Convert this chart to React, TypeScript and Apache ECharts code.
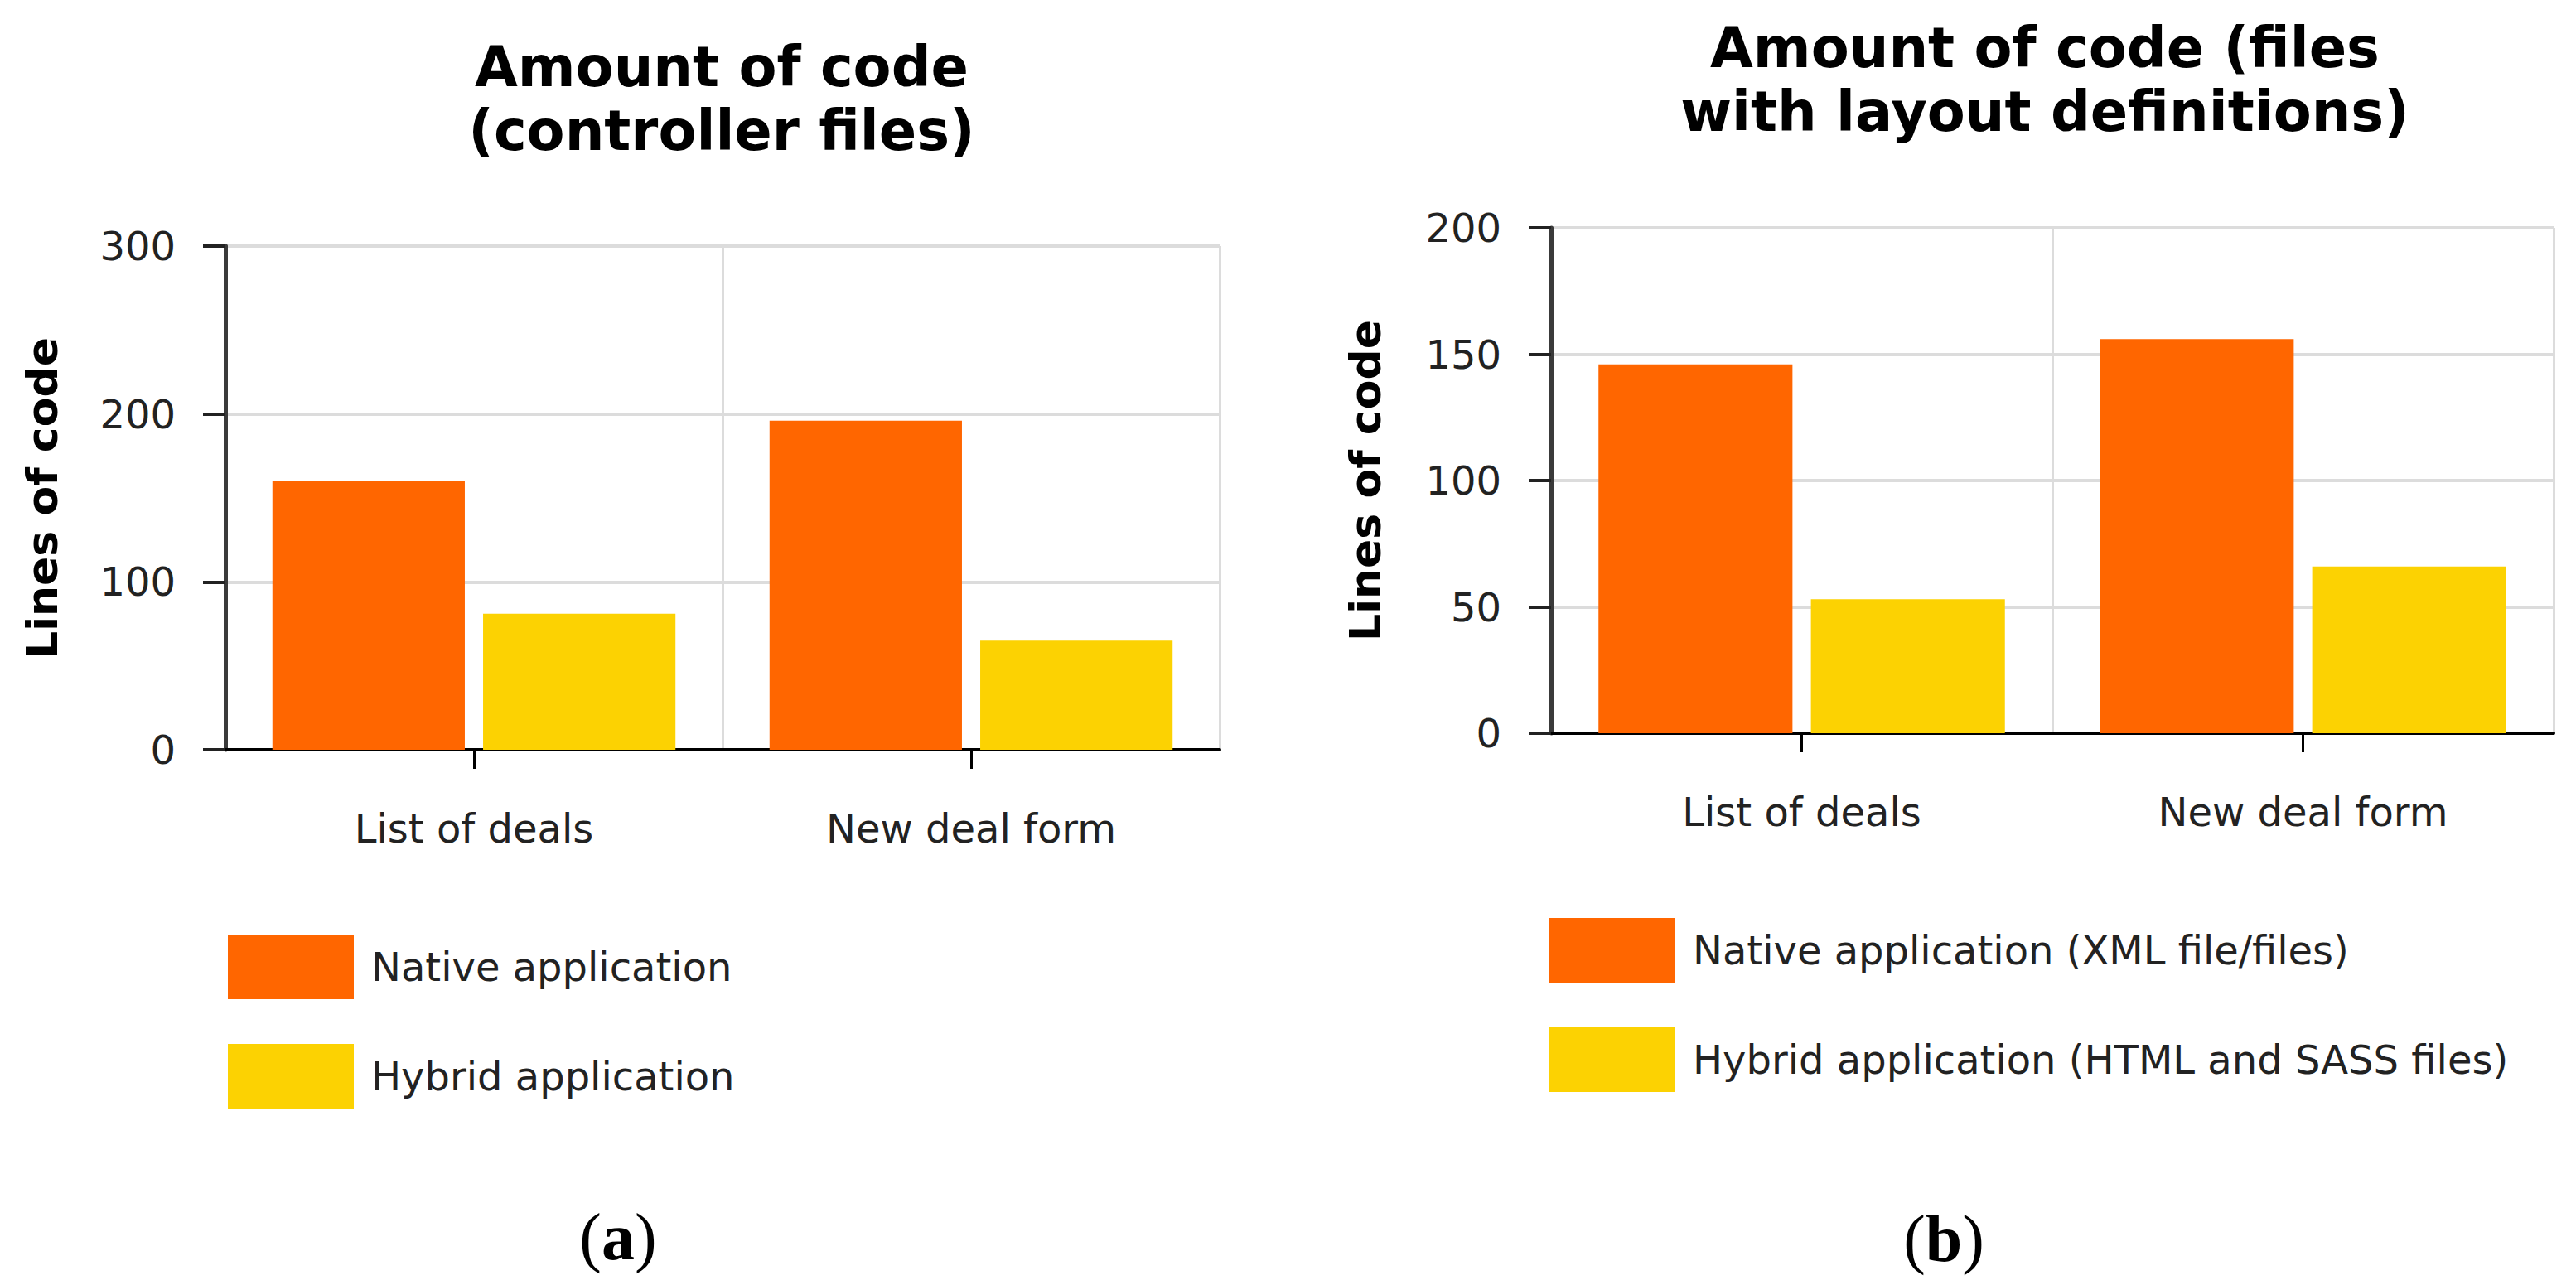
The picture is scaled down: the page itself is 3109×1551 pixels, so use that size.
import React, { useEffect, useRef } from "react";
import * as echarts from "echarts";

const categories = ["List of deals", "New deal form"];

const seriesNamesA = ["Native application", "Hybrid application"];
const nativeA = [160, 196];
const hybridA = [81, 65];
const yMaxA = 300;
const yIntervalA = 100;

const seriesNamesB = [
  "Native application (XML file/files)",
  "Hybrid application (HTML and SASS files)",
];
const nativeB = [146, 156];
const hybridB = [53, 66];
const yMaxB = 200;
const yIntervalB = 50;

const titleA = "Amount of code\n(controller files)";
const titleB = "Amount of code (files\nwith layout definitions)";
const yName = "Lines of code";

const ORANGE = "#FF6600";
const YELLOW = "#FCD202";
const SANS = "DejaVu Sans, Verdana, sans-serif";
const SERIF = "Liberation Serif, serif";

export default function App() {
  const ref = useRef<HTMLDivElement>(null);

  useEffect(() => {
    if (!ref.current) return;
    const chart = echarts.init(ref.current, undefined, { renderer: "svg" });

    const makeX = (gridIndex: number) => ({
      type: "category",
      gridIndex,
      data: categories,
      boundaryGap: true,
      axisLine: { show: true, lineStyle: { color: "#000", width: 4 } },
      axisTick: {
        show: true,
        alignWithLabel: true,
        length: 23,
        lineStyle: { color: "#000", width: 3 },
      },
      axisLabel: {
        margin: 71,
        fontSize: 48,
        fontFamily: SANS,
        color: "#222",
      },
      splitLine: { show: true, lineStyle: { color: "#dcdcdc", width: 3 } },
    });

    const makeY = (gridIndex: number, max: number, interval: number, gap: number) => ({
      type: "value",
      gridIndex,
      min: 0,
      max,
      interval,
      name: yName,
      nameLocation: "middle",
      nameRotate: 90,
      nameGap: gap,
      nameTextStyle: {
        fontSize: 52,
        fontWeight: "bold",
        fontFamily: SANS,
        color: "#000",
      },
      axisLine: { show: true, lineStyle: { color: "#3a3a3a", width: 5 } },
      axisTick: {
        show: true,
        length: 27,
        lineStyle: { color: "#222", width: 4 },
      },
      axisLabel: {
        margin: 60,
        fontSize: 48,
        fontFamily: SANS,
        color: "#222",
      },
      splitLine: { show: true, lineStyle: { color: "#dcdcdc", width: 4 } },
    });

    const bar = (name: string, data: number[], color: string, idx: number) => ({
      type: "bar",
      name,
      xAxisIndex: idx,
      yAxisIndex: idx,
      data,
      barWidth: "38.7%",
      barGap: "9.5%",
      itemStyle: { color },
    });

    const legendBase = {
      orient: "vertical",
      icon: "rect",
      itemWidth: 152,
      itemHeight: 78,
      itemGap: 54,
      textStyle: {
        fontSize: 48,
        fontFamily: SANS,
        color: "#222",
        padding: [0, 0, 0, 16],
      },
    };

    const titleText = (text: string, x: number, y: number) => ({
      type: "text",
      x,
      y,
      style: {
        text,
        fontSize: 67,
        fontWeight: "bold",
        fontFamily: SANS,
        fill: "#000",
        lineHeight: 77,
        align: "center",
        textAlign: "center",
        verticalAlign: "top",
        textVerticalAlign: "top",
      },
    });

    const subLabel = (letter: string, x: number, y: number) => ({
      type: "text",
      x,
      y,
      style: {
        text: "{p|(}{b|" + letter + "}{p|)}",
        align: "center",
        textAlign: "center",
        verticalAlign: "middle",
        textVerticalAlign: "middle",
        fill: "#000",
        rich: {
          p: { fontSize: 80, fontFamily: SERIF, color: "#000" },
          b: { fontSize: 80, fontFamily: SERIF, fontWeight: "bold", color: "#000" },
        },
      },
    });

    chart.setOption({
      animation: false,
      backgroundColor: "#fff",
      grid: [
        { left: 272, top: 297, width: 1200, height: 608, containLabel: false },
        { left: 1872, top: 275, width: 1210, height: 610, containLabel: false },
      ],
      xAxis: [makeX(0), makeX(1)],
      yAxis: [
        makeY(0, yMaxA, yIntervalA, 195),
        makeY(1, yMaxB, yIntervalB, 198),
      ],
      legend: [
        { ...legendBase, left: 270, top: 1123, data: seriesNamesA },
        { ...legendBase, left: 1865, top: 1103, data: seriesNamesB },
      ],
      series: [
        bar(seriesNamesA[0], nativeA, ORANGE, 0),
        bar(seriesNamesA[1], hybridA, YELLOW, 0),
        bar(seriesNamesB[0], nativeB, ORANGE, 1),
        bar(seriesNamesB[1], hybridB, YELLOW, 1),
      ],
      graphic: [
        titleText(titleA, 871, 42),
        titleText(titleB, 2468, 19),
        subLabel("a", 746, 1493),
        subLabel("b", 2346, 1495),
      ],
    });

    return () => chart.dispose();
  }, []);

  return (
    <div
      ref={ref}
      style={{
        position: "absolute",
        left: 0,
        top: 0,
        width: 3109,
        height: 1551,
        background: "#fff",
      }}
    />
  );
}
